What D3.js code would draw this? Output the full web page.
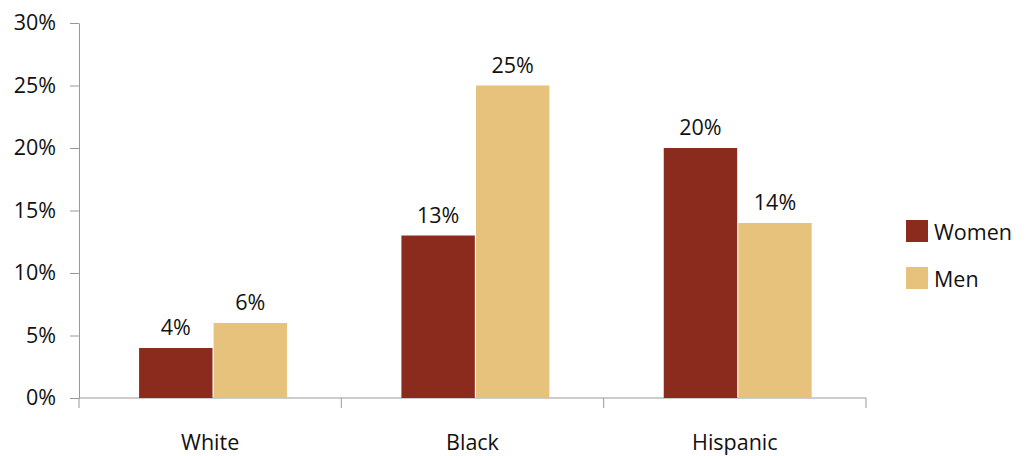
<!DOCTYPE html>
<html>
<head>
<meta charset="utf-8">
<script src="https://cdn.jsdelivr.net/npm/d3@7"></script>
<style>
	body { margin: 0; background: #fff; }
	svg text { font-family: "Open Sans", Lato, sans-serif; fill: #111; }
	.axis path, .axis line { stroke: #999; }
</style>
</head>
<body>
<div id="chart"></div>
<script>
// data
const categories = ['White', 'Black', 'Hispanic'];
const series = ['Women', 'Men'];
const women = [4, 13, 20];
const men = [6, 25, 14];
const yTickValues = [0, 5, 10, 15, 20, 25, 30];
const colors = ['#8b2b1e', '#e6c27d'];

const width = 1029;
const height = 456;
const margin = { top: 23, right: 163, bottom: 58, left: 79 };
const fontSize = '21.5px';

const svg = d3.select('#chart').append('svg')
	.attr('width', width)
	.attr('height', height);

const x = d3.scaleBand()
	.domain(categories)
	.range([margin.left, width - margin.right])
	.padding(0);

// inner band for the two bars in each group
const bw = x.bandwidth();
const x1 = d3.scaleBand()
	.domain(series)
	.range([bw * 0.229, bw * 0.793])
	.paddingInner(0.015);

const y = d3.scaleLinear()
	.domain([0, 30])
	.range([height - margin.bottom, margin.top]);

// y axis
svg.append('g')
	.attr('class', 'axis')
	.attr('transform', `translate(${margin.left},0)`)
	.call(d3.axisLeft(y)
		.tickValues(yTickValues)
		.tickSize(9)
		.tickSizeOuter(0)
		.tickPadding(14)
		.tickFormat(d => `${d}%`))
	.call(g => g.selectAll('text').style('font-size', fontSize).attr('fill', '#111'));

// x axis, ticks on the category edges
const xEdges = categories.map(c => x(c)).concat([x(categories[categories.length - 1]) + bw]);
const xg = svg.append('g')
	.attr('class', 'axis')
	.attr('transform', `translate(0,${y(0)})`);
xg.append('line')
	.attr('x1', margin.left).attr('x2', width - margin.right)
	.attr('stroke', '#999');
xg.selectAll('.tick')
	.data(xEdges)
	.enter().append('line')
		.attr('x1', d => d).attr('x2', d => d)
		.attr('y1', 0).attr('y2', 10)
		.attr('stroke', '#999');
xg.selectAll('.cat')
	.data(categories)
	.enter().append('text')
		.attr('x', d => x(d) + bw / 2)
		.attr('y', 52)
		.attr('text-anchor', 'middle')
		.style('font-size', fontSize)
		.text(d => d);

// bars
const rows = categories.map((c, i) => ({ cat: c, vals: [women[i], men[i]] }));
const groups = svg.append('g')
	.selectAll('g')
	.data(rows)
	.enter().append('g')
		.attr('transform', d => `translate(${x(d.cat)},0)`);

groups.selectAll('rect')
	.data(d => d.vals.map((v, i) => ({ s: series[i], v, i })))
	.enter().append('rect')
		.attr('x', d => x1(d.s))
		.attr('y', d => y(d.v))
		.attr('width', x1.bandwidth())
		.attr('height', d => y(0) - y(d.v))
		.attr('fill', d => colors[d.i]);

groups.selectAll('.lbl')
	.data(d => d.vals.map((v, i) => ({ s: series[i], v, i })))
	.enter().append('text')
		.attr('x', d => x1(d.s) + x1.bandwidth() / 2)
		.attr('y', d => y(d.v) - 13)
		.attr('text-anchor', 'middle')
		.style('font-size', fontSize)
		.text(d => `${d.v}%`);

// legend
const legend = svg.append('g')
	.attr('transform', 'translate(906,220)');
const item = legend.selectAll('g')
	.data(series)
	.enter().append('g')
		.attr('transform', (d, i) => `translate(0,${i * 47})`);
item.append('rect')
	.attr('width', 22).attr('height', 22)
	.attr('fill', (d, i) => colors[i]);
item.append('text')
	.attr('x', 28).attr('y', 20)
	.style('font-size', fontSize)
	.text(d => d);
</script>
</body>
</html>
